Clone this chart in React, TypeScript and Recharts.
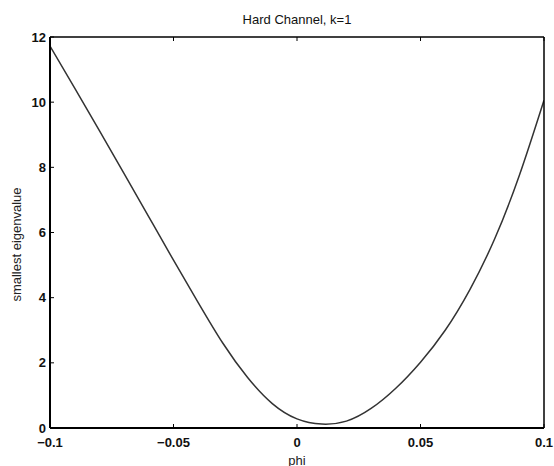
import React from 'react';
import { LineChart, Line, XAxis, YAxis } from 'recharts';

const phiValues = [-0.1, -0.09, -0.08, -0.07, -0.06, -0.05, -0.04, -0.03, -0.02, -0.01, 0, 0.01, 0.02, 0.03, 0.04, 0.05, 0.06, 0.07, 0.08, 0.09, 0.1];
const eigenValues = [11.72, 10.43, 9.13, 7.81, 6.48, 5.15, 3.85, 2.6, 1.55, 0.75, 0.28, 0.12, 0.21, 0.6, 1.22, 2.02, 3.0, 4.25, 5.8, 7.75, 10.06];
const xTicks = [-0.1, -0.05, 0, 0.05, 0.1];
const yTicks = [0, 2, 4, 6, 8, 10, 12];
const title = 'Hard Channel, k=1';
const xLabel = 'phi';
const yLabel = 'smallest eigenvalue';

const data = phiValues.map((p, i) => ({ phi: p, value: eigenValues[i] }));

const FONT = 'Liberation Sans, Arial, Helvetica, sans-serif';
const fmtX = (v: number) => (v < 0 ? '\u2212' + String(Math.abs(v)) : String(v));

const BottomTick = (props: any) => {
  const { x, y, payload } = props;
  return (
    <g>
      <line x1={x} x2={x} y1={y - 10} y2={y - 14} stroke="#000" strokeWidth={1} />
      <text x={x} y={y} dy="0.71em" textAnchor="middle" fontSize={13} fontWeight="bold" fontFamily={FONT} fill="#111">
        {fmtX(payload.value)}
      </text>
    </g>
  );
};

const TopTick = (props: any) => {
  const { x, y } = props;
  return <line x1={x} x2={x} y1={y} y2={y + 4} stroke="#000" strokeWidth={1} />;
};

const LeftTick = (props: any) => {
  const { x, y, payload } = props;
  return (
    <g>
      <line x1={x + 4} x2={x + 8} y1={y} y2={y} stroke="#000" strokeWidth={1} />
      <text x={x} y={y} dy="0.355em" textAnchor="end" fontSize={13} fontWeight="bold" fontFamily={FONT} fill="#111">
        {payload.value}
      </text>
    </g>
  );
};

const RightTick = (props: any) => {
  const { x, y } = props;
  return <line x1={x} x2={x - 4} y1={y} y2={y} stroke="#000" strokeWidth={1} />;
};

const YLabel = (props: any) => {
  const vb = props.viewBox || {};
  const cx = vb.x + 16;
  const cy = vb.y + vb.height / 2 + 12;
  return (
    <text x={cx} y={cy} transform={`rotate(-90, ${cx}, ${cy})`} textAnchor="middle" dominantBaseline="central" fontSize={13} fontFamily={FONT} fill="#222">
      {yLabel}
    </text>
  );
};

const XLabel = (props: any) => {
  const vb = props.viewBox || {};
  const cx = vb.x + vb.width / 2;
  const cy = vb.y + 32;
  return (
    <text x={cx} y={cy} textAnchor="middle" dominantBaseline="central" fontSize={13} fontFamily={FONT} fill="#222">
      {xLabel}
    </text>
  );
};

export default function App() {
  return (
    <div style={{ position: 'absolute', left: 0, top: 0, width: 554, height: 466, background: '#fff' }}>
      <div
        style={{
          position: 'absolute',
          left: 50,
          width: 494,
          top: 12,
          textAlign: 'center',
          fontFamily: FONT,
          fontSize: 13,
          lineHeight: '15px',
          color: '#111',
        }}
      >
        {title}
      </div>
      <LineChart width={554} height={466} data={data} margin={{ top: 36, right: 0, bottom: 0, left: 0 }}>
        <XAxis
          dataKey="phi"
          type="number"
          domain={[-0.1, 0.1]}
          ticks={xTicks}
          allowDataOverflow
          height={38}
          tickSize={0}
          tickMargin={10}
          tick={<BottomTick />}
          axisLine={{ stroke: '#000', strokeWidth: 2 }}
          tickLine={false}
          label={<XLabel />}
        />
        <XAxis
          xAxisId="top"
          orientation="top"
          dataKey="phi"
          type="number"
          domain={[-0.1, 0.1]}
          ticks={xTicks}
          height={1}
          tickSize={0}
          tickMargin={0}
          tick={<TopTick />}
          axisLine={{ stroke: '#000', strokeWidth: 1.5 }}
          tickLine={false}
        />
        <YAxis
          type="number"
          domain={[0, 12]}
          ticks={yTicks}
          allowDataOverflow
          width={50}
          tickSize={0}
          tickMargin={4}
          tick={<LeftTick />}
          axisLine={{ stroke: '#000', strokeWidth: 2 }}
          tickLine={false}
          label={<YLabel />}
        />
        <YAxis
          yAxisId="right"
          orientation="right"
          type="number"
          domain={[0, 12]}
          ticks={yTicks}
          width={10}
          tickSize={0}
          tickMargin={0}
          tick={<RightTick />}
          axisLine={{ stroke: '#000', strokeWidth: 1.5 }}
          tickLine={false}
        />
        <Line
          type="natural"
          dataKey="value"
          stroke="#333"
          strokeWidth={1.5}
          dot={false}
          isAnimationActive={false}
        />
      </LineChart>
    </div>
  );
}
